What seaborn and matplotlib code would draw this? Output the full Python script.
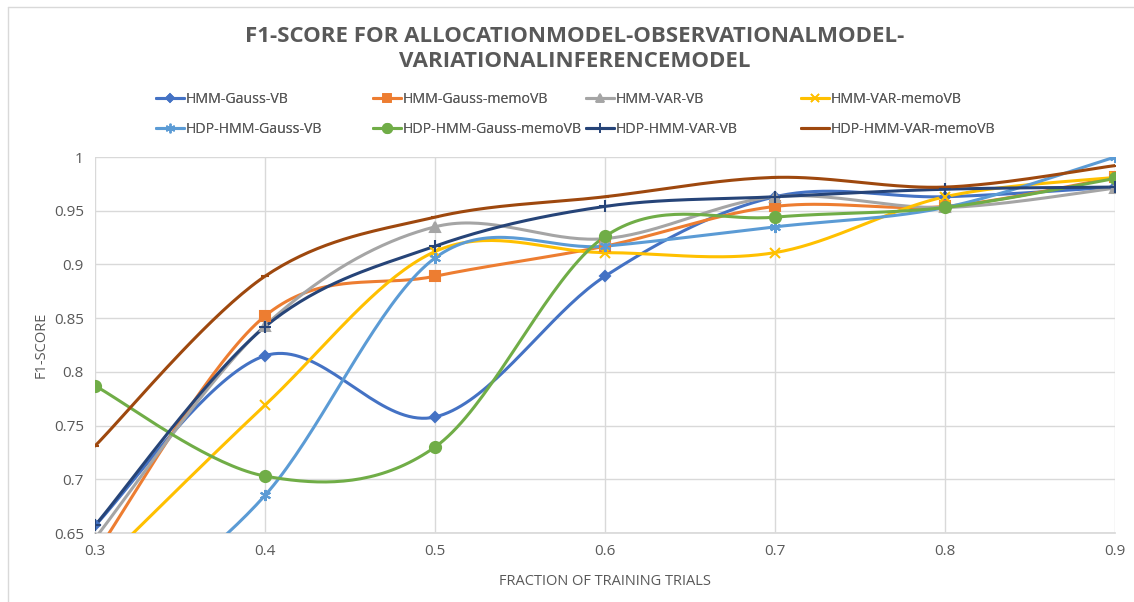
import numpy as np
import pandas as pd
import matplotlib
matplotlib.use("Agg")
import matplotlib.pyplot as plt
import seaborn as sns
from matplotlib.lines import Line2D

fractions = [0.3, 0.4, 0.5, 0.6, 0.7, 0.8, 0.9]
series_names = ["HMM-Gauss-VB", "HMM-Gauss-memoVB", "HMM-VAR-VB", "HMM-VAR-memoVB",
                "HDP-HMM-Gauss-VB", "HDP-HMM-Gauss-memoVB", "HDP-HMM-VAR-VB", "HDP-HMM-VAR-memoVB"]
hmm_gauss_vb = [0.657, 0.815, 0.758, 0.889, 0.963, 0.963, 0.972]
hmm_gauss_memovb = [0.630, 0.852, 0.889, 0.917, 0.954, 0.954, 0.981]
hmm_var_vb = [0.645, 0.843, 0.935, 0.924, 0.963, 0.953, 0.971]
hmm_var_memovb = [0.615, 0.769, 0.912, 0.911, 0.911, 0.963, 0.981]
hdp_hmm_gauss_vb = [0.550, 0.685, 0.906, 0.917, 0.935, 0.953, 1.000]
hdp_hmm_gauss_memovb = [0.787, 0.703, 0.730, 0.926, 0.944, 0.953, 0.980]
hdp_hmm_var_vb = [0.657, 0.842, 0.917, 0.954, 0.963, 0.970, 0.972]
hdp_hmm_var_memovb = [0.731, 0.889, 0.944, 0.963, 0.981, 0.972, 0.992]
y_ticks = [0.65, 0.7, 0.75, 0.8, 0.85, 0.9, 0.95, 1.0]
y_tick_labels = ["0.65", "0.7", "0.75", "0.8", "0.85", "0.9", "0.95", "1"]
x_tick_labels = ["0.3", "0.4", "0.5", "0.6", "0.7", "0.8", "0.9"]

all_values = [hmm_gauss_vb, hmm_gauss_memovb, hmm_var_vb, hmm_var_memovb,
              hdp_hmm_gauss_vb, hdp_hmm_gauss_memovb, hdp_hmm_var_vb, hdp_hmm_var_memovb]
colors = ["#4472C4", "#ED7D31", "#A5A5A5", "#FFC000", "#5B9BD5", "#70AD47", "#264478", "#9E480E"]
markers = ["D", "s", "^", "x", (6, 2, 0), "o", "+", "_"]
msizes = [5, 7, 7, 7, 8, 8, 9, 6]


def smooth(xs, ys, n=40):
    # Excel-style smoothing (Catmull-Rom / Bezier with 1/6 control points)
    xs = np.asarray(xs, float); ys = np.asarray(ys, float)
    px, py = [], []
    for i in range(len(xs) - 1):
        p0 = np.array([xs[max(i - 1, 0)], ys[max(i - 1, 0)]])
        p1 = np.array([xs[i], ys[i]])
        p2 = np.array([xs[i + 1], ys[i + 1]])
        p3 = np.array([xs[min(i + 2, len(xs) - 1)], ys[min(i + 2, len(xs) - 1)]])
        c1 = p1 + (p2 - p0) / 6
        c2 = p2 - (p3 - p1) / 6
        t = np.linspace(0, 1, n)[:, None]
        b = (1 - t) ** 3 * p1 + 3 * (1 - t) ** 2 * t * c1 + 3 * (1 - t) * t ** 2 * c2 + t ** 3 * p2
        px.extend(b[:, 0]); py.extend(b[:, 1])
    return np.array(px), np.array(py)


rows = []
for name, vals in zip(series_names, all_values):
    sx, sy = smooth(fractions, vals)
    for i, (a, b) in enumerate(zip(sx, sy)):
        rows.append({"series": name, "x": a, "y": b, "order": i})
curve_df = pd.DataFrame(rows)
point_df = pd.DataFrame([{"series": n, "x": f, "y": v}
                         for n, vals in zip(series_names, all_values)
                         for f, v in zip(fractions, vals)])

sns.set_theme(style="white")
plt.rcParams["font.family"] = ["Open Sans", "DejaVu Sans"]

W, H = 1134, 602
fig = plt.figure(figsize=(W / 100, H / 100), dpi=100)
ax = fig.add_axes([95 / W, 1 - 533 / H, (1115 - 95) / W, (533 - 157) / H])

palette = dict(zip(series_names, colors))
sns.lineplot(data=curve_df, x="x", y="y", hue="series", units="series", estimator=None,
             sort=False, palette=palette, linewidth=2.2, legend=False, ax=ax, zorder=3)
for name, c, m, ms in zip(series_names, colors, markers, msizes):
    sub = point_df[point_df.series == name]
    ax.plot(sub.x, sub.y, linestyle="none", marker=m, markersize=ms, color=c,
            markeredgecolor=c, markeredgewidth=1.5, zorder=4, clip_on=True)

ax.set_xlim(0.3, 0.9)
ax.set_ylim(0.65, 1.0)
ax.set_xticks(fractions)
ax.set_xticklabels(x_tick_labels)
ax.set_yticks(y_ticks)
ax.set_yticklabels(y_tick_labels)
ax.grid(True, color="#D9D9D9", linewidth=1)
ax.set_axisbelow(True)
for s in ["top", "right", "left"]:
    ax.spines[s].set_visible(False)
ax.spines["bottom"].set_color("#D9D9D9")
ax.tick_params(axis="both", colors="#595959", labelsize=11, length=0, pad=8)
ax.set_xlabel("FRACTION OF TRAINING TRIALS", color="#595959", fontsize=10.5, labelpad=11)
ax.set_ylabel("F1-SCORE", color="#595959", fontsize=10.5, labelpad=4)

fig.text(0.507, 1 - 26 / H, "F1-SCORE FOR ALLOCATIONMODEL-OBSERVATIONALMODEL-\nVARIATIONALINFERENCEMODEL",
         ha="center", va="top", fontsize=16, fontweight="bold", color="#595959",
         linespacing=1.25)

# chart-area border (left and top edges visible)
fig.add_artist(Line2D([8 / W, 8 / W], [0, 1 - 7 / H], color="#D9D9D9", linewidth=1))
fig.add_artist(Line2D([8 / W, 1], [1 - 7 / H, 1 - 7 / H], color="#D9D9D9", linewidth=1))

col_x = [156, 373, 586, 801]
for col in range(4):
    idx = [col, col + 4]
    handles = [Line2D([0], [0], color=colors[i], marker=markers[i], markersize=msizes[i] * 0.85,
                      linewidth=2.2, markeredgecolor=colors[i], markeredgewidth=1.2) for i in idx]
    leg = fig.legend(handles, [series_names[i] for i in idx], loc="upper left",
                     bbox_to_anchor=(col_x[col] / W, 1 - 92 / H), frameon=False, fontsize=10.2,
                     handlelength=2.0, handletextpad=0.1, labelcolor="#595959",
                     borderaxespad=0, borderpad=0, labelspacing=1.05)
    fig.add_artist(leg)

fig.savefig("out.png", dpi=100)
